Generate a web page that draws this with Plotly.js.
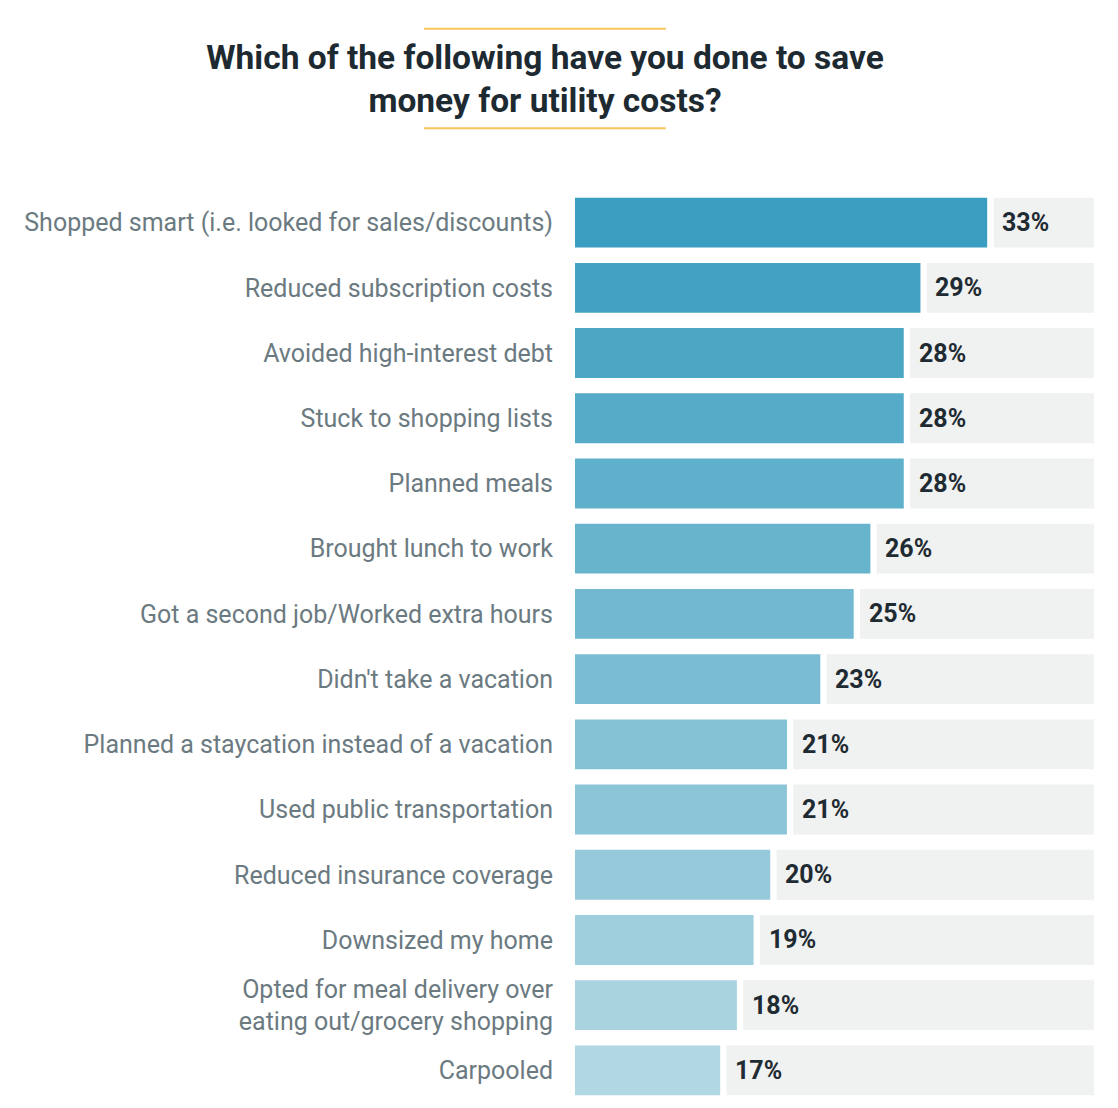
<!DOCTYPE html>
<html>
<head>
<meta charset="utf-8">
<script src="https://cdn.plot.ly/plotly-3.0.1.min.js"></script>
<style>
  html, body { margin: 0; padding: 0; background: #ffffff; }
  #chartDiv { width: 1118px; height: 1108px; }
</style>
</head>
<body>
<div id="chartDiv"></div>
<script>
// chart data
var categories = [
    'Shopped smart (i.e. looked for sales/discounts)',
    'Reduced subscription costs',
    'Avoided high-interest debt',
    'Stuck to shopping lists',
    'Planned meals',
    'Brought lunch to work',
    'Got a second job/Worked extra hours',
    "Didn't take a vacation",
    'Planned a staycation instead of a vacation',
    'Used public transportation',
    'Reduced insurance coverage',
    'Downsized my home',
    'Opted for meal delivery over<br>eating out/grocery shopping',
    'Carpooled'
];
var shares = [33, 29, 28, 28, 28, 26, 25, 23, 21, 21, 20, 19, 18, 17];
var shareLabels = ['33%', '29%', '28%', '28%', '28%', '26%', '25%', '23%', '21%', '21%', '20%', '19%', '18%', '17%'];

// axis window: bars start cropped, grey track runs to the right edge
var xMin = 8.3, xMax = 39.4;
var trackGap = 0.38; // white gap between bar and grey track

// colour ramp from dark teal (top) to pale blue (bottom)
var topColor = [58, 158, 192], bottomColor = [177, 215, 226];
function rampColor(i, n) {
    var f = i / (n - 1);
    var c = topColor.map(function (v, k) { return Math.round(v + (bottomColor[k] - v) * f); });
    return 'rgb(' + c.join(',') + ')';
}

var barColors = [], trackBase = [], trackLen = [], annotations = [];
for (var i = 0; i < shares.length; i++) {
    barColors.push(rampColor(i, shares.length));
    trackBase.push(shares[i] + trackGap);
    trackLen.push(xMax - shares[i] - trackGap);
    annotations.push({
        x: shares[i], y: categories[i], xref: 'x', yref: 'y',
        text: shareLabels[i], showarrow: false,
        xanchor: 'left', yanchor: 'middle', xshift: 13,
        font: { family: 'Roboto, sans-serif', size: 25, color: '#1f2b32', weight: 'bold' }
    });
}

var data = [
    {   // grey track behind the label
        type: 'bar', orientation: 'h',
        y: categories, x: trackLen, base: trackBase,
        marker: { color: '#f0f1f1' },
        hoverinfo: 'skip', showlegend: false
    },
    {   // coloured bars
        type: 'bar', orientation: 'h',
        y: categories, x: shares,
        marker: { color: barColors },
        showlegend: false
    }
];

var layout = {
    width: 1118, height: 1108,
    paper_bgcolor: '#ffffff', plot_bgcolor: '#ffffff',
    margin: { l: 575, r: 24, t: 190, b: 5 },
    barmode: 'overlay',
    bargap: 0.235,
    title: {
        text: '<b>Which of the following have you done to save<br>money for utility costs?</b>',
        x: 0.4875, xref: 'container', xanchor: 'center',
        y: 0.938, yref: 'container', yanchor: 'middle',
        font: { family: 'Roboto, sans-serif', size: 33.5, color: '#1e2a31' }
    },
    xaxis: {
        range: [xMin, xMax],
        showgrid: false, zeroline: false, showticklabels: false, showline: false,
        fixedrange: true
    },
    yaxis: {
        autorange: 'reversed',
        showgrid: false, zeroline: false, showline: false,
        ticks: '', ticklabelstandoff: 21,
        tickfont: { family: 'Roboto, sans-serif', size: 25, color: '#6b7a81' },
        automargin: false
    },
    annotations: annotations,
    shapes: [
        { type: 'line', xref: 'paper', yref: 'paper', x0: -0.291, x1: 0.175, y0: 1.1765, y1: 1.1765,
          line: { color: '#f8c55c', width: 2 } },
        { type: 'line', xref: 'paper', yref: 'paper', x0: -0.291, x1: 0.175, y0: 1.0675, y1: 1.0675,
          line: { color: '#f8c55c', width: 2 } }
    ]
};

Plotly.newPlot('chartDiv', data, layout, { displayModeBar: false, staticPlot: true });
</script>
</body>
</html>
